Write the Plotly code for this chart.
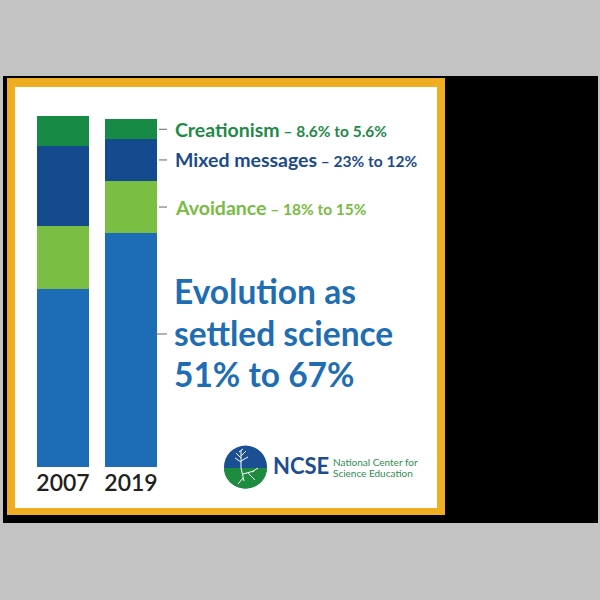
import plotly.graph_objects as go
import math

# ---- data ----
years = ["2007", "2019"]
creationism = [8.6, 5.6]
mixed = [23, 12]
avoidance = [18, 15]
evolution = [51, 67]

series_names = ["Evolution as settled science", "Avoidance", "Mixed messages", "Creationism"]
series_values = [evolution, avoidance, mixed, creationism]
bar_colors = ["#1c6db5", "#7abf43", "#134b8e", "#178a45"]
text_colors = {"Creationism": "#1f8a48", "Mixed messages": "#1c4a8a",
               "Avoidance": "#79bb44", "Evolution": "#1f6db3"}

W = H = 600
def px(x):
    return x / W
def py(y):
    return 1 - y / H

fig = go.Figure()
for name, vals, col in zip(series_names, series_values, bar_colors):
    fig.add_trace(go.Bar(x=years, y=vals, name=name, marker=dict(color=col, line=dict(width=0)),
                         width=0.765, showlegend=False, hoverinfo="x+y+name"))

shapes = []
# frame: black backing, gold border, white panel
shapes.append(dict(type="rect", xref="paper", yref="paper", x0=px(3), x1=px(598), y0=py(523), y1=py(76),
                   fillcolor="#000000", line=dict(width=0), layer="below"))
shapes.append(dict(type="rect", xref="paper", yref="paper", x0=px(7), x1=px(445), y0=py(515), y1=py(78),
                   fillcolor="#efad22", line=dict(width=0), layer="below"))
shapes.append(dict(type="rect", xref="paper", yref="paper", x0=px(15), x1=px(437), y0=py(508), y1=py(87),
                   fillcolor="#ffffff", line=dict(width=0), layer="below"))

annotations = []
font = "Lato, 'Open Sans', sans-serif"

def seg_mid(idx):
    base = sum(v[1] for v in series_values[:idx])
    return base + series_values[idx][1] / 2

small_labels = [
    ("Creationism", creationism, 3),
    ("Mixed messages", mixed, 2),
    ("Avoidance", avoidance, 1),
]
def fmt(v):
    return ("%g" % v) + "%"
for lab, vals, idx in small_labels:
    ym = seg_mid(idx)
    shapes.append(dict(type="line", xref="paper", yref="y", x0=px(159), x1=px(167), y0=ym, y1=ym,
                       line=dict(color="#666666", width=1)))
    txt = ("<b>%s</b><span style='font-size:15.5px'><b> – %s to %s</b></span>"
           % (lab, fmt(vals[0]), fmt(vals[1])))
    annotations.append(dict(xref="paper", yref="y", x=px(173), y=ym, xanchor="left", yanchor="middle",
                            text=txt, showarrow=False,
                            font=dict(family=font, size=19.5, color=text_colors[lab])))

# big evolution text
shapes.append(dict(type="line", xref="paper", yref="paper", x0=px(155), x1=px(167), y0=py(334), y1=py(334),
                   line=dict(color="#666666", width=1)))
big_lines = ["Evolution as", "settled science", "%s to %s" % (fmt(evolution[0]), fmt(evolution[1]))]
for i, t in enumerate(big_lines):
    annotations.append(dict(xref="paper", yref="paper", x=px(172), y=py(291 + 41.5 * i), xanchor="left",
                            yanchor="middle", text="<b>%s</b>" % t, showarrow=False,
                            font=dict(family=font, size=33.5, color=text_colors["Evolution"])))

# logo
cx, cy, r = 245.5, 467, 21.5
shapes.append(dict(type="circle", xref="paper", yref="paper", x0=px(cx - r), x1=px(cx + r),
                   y0=py(cy + r), y1=py(cy - r), fillcolor="#1b4f93", line=dict(width=0)))
pts = []
for k in range(0, 41):
    a = math.pi * k / 40
    pts.append((cx + r * math.cos(a), cy + 1 + (r - 1) * math.sin(a)))
path = "M " + " L ".join("%.4f,%.4f" % (px(x), py(y)) for x, y in pts) + " Z"
shapes.append(dict(type="path", xref="paper", yref="paper", path=path, fillcolor="#1e8c3e", line=dict(width=0)))
tree = [((241, 468), (241, 451)), ((241, 458), (236, 453)), ((241, 456), (246, 451)), ((241, 462), (235, 458)),
        ((241, 461), (248, 457)), ((239, 452), (243, 449)),
        ((241, 468), (244, 481)), ((243, 474), (254, 471)), ((248, 473), (255, 480)), ((252, 472), (258, 468)),
        ((243, 478), (238, 484))]
for (x0, y0), (x1, y1) in tree:
    shapes.append(dict(type="line", xref="paper", yref="paper", x0=px(x0), y0=py(y0), x1=px(x1), y1=py(y1),
                       line=dict(color="#ffffff", width=1)))
annotations.append(dict(xref="paper", yref="paper", x=px(271), y=py(466), xanchor="left", yanchor="middle",
                        text="<b>NCSE</b>", showarrow=False,
                        font=dict(family=font, size=22, color="#1d4d8f")))
annotations.append(dict(xref="paper", yref="paper", x=px(331), y=py(461.5), xanchor="left", yanchor="middle",
                        text="National Center for", showarrow=False,
                        font=dict(family=font, size=10, color="#2f8d52")))
annotations.append(dict(xref="paper", yref="paper", x=px(331), y=py(473), xanchor="left", yanchor="middle",
                        text="Science Education", showarrow=False,
                        font=dict(family=font, size=10, color="#2f8d52")))

fig.update_layout(
    width=W, height=H, autosize=False,
    margin=dict(l=0, r=0, t=0, b=0),
    paper_bgcolor="#c3c3c3", plot_bgcolor="rgba(0,0,0,0)",
    barmode="stack", bargap=0,
    shapes=shapes, annotations=annotations,
    xaxis=dict(domain=[px(29), px(165)], range=[-0.5, 1.5], showgrid=False, zeroline=False,
               showline=False, ticks="", tickfont=dict(family="Lato Semibold, Lato, sans-serif", size=23, color="#231f20", weight=600),
               fixedrange=True),
    yaxis=dict(domain=[py(467), py(116)], range=[0, 100.6], visible=False, fixedrange=True),
)
fig.write_html("out.html")
